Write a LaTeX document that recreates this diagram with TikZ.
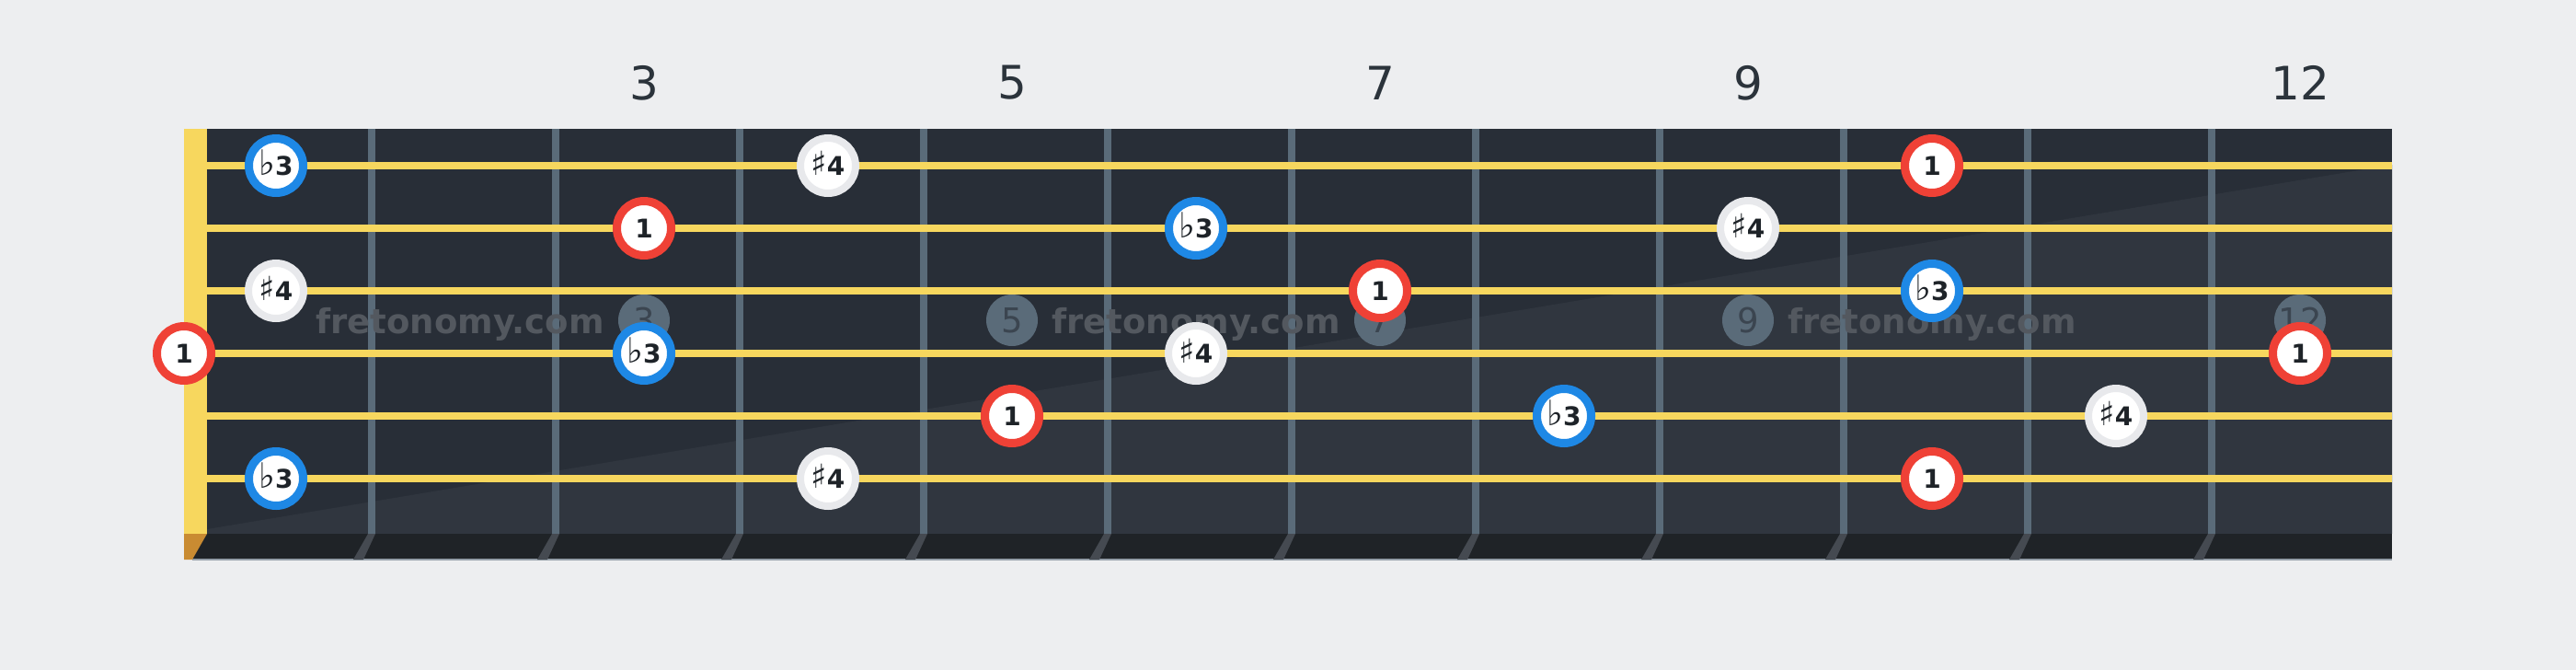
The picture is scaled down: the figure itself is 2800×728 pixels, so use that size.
\documentclass[tikz,border=0pt]{standalone}
\usepackage{fontspec}
\setmainfont{DejaVu Sans}
\definecolor{bgc}{HTML}{EDEEF0}
\definecolor{boardc}{HTML}{282E37}
\definecolor{shadec}{HTML}{30363F}
\definecolor{fretc}{HTML}{5A6B79}
\definecolor{stringc}{HTML}{F7D75E}
\definecolor{orangec}{HTML}{C98B32}
\definecolor{stripc}{HTML}{1F2327}
\definecolor{stripfret}{HTML}{454A51}
\definecolor{inlaytext}{HTML}{3B4550}
\definecolor{fretnum}{HTML}{2B333B}
\definecolor{wmc}{HTML}{53585F}
\definecolor{noteRed}{HTML}{EF4136}
\definecolor{noteBlue}{HTML}{1E88E5}
\definecolor{sharpRing}{HTML}{E8E9EC}
\definecolor{notetext}{HTML}{1E2328}
\newcommand{\accfl}{\smash{\mdseries\fontsize{38}{40}\selectfont ♭}}
\newcommand{\accsh}{\smash{\mdseries\fontsize{36}{40}\selectfont ♯}}
\begin{document}
\begin{tikzpicture}[x=1pt,y=-1pt,
  note/.style={circle, minimum size=59pt, inner sep=0pt, line width=9pt, fill=white, text=notetext, font=\fontsize{28}{30}\selectfont\bfseries},
  root/.style={note, draw=noteRed},
  flatthree/.style={note, draw=noteBlue},
  sharpfour/.style={note, draw=sharpRing, line width=8pt, minimum size=60pt},
  stringline/.style={draw=stringc, line width=8pt},
  inlay/.style={circle, fill=fretc, minimum size=56pt, inner sep=0pt, text=inlaytext, font=\fontsize{37}{40}\selectfont},
  fretlabel/.style={inner sep=0pt, text=fretnum, font=\fontsize{50}{56}\selectfont},
  watermark/.style={inner sep=0pt, anchor=base, text=wmc, font=\fontsize{37}{40}\selectfont\bfseries}
]
% background
\fill[bgc] (0,0) rectangle (2800,728);
\useasboundingbox (0,0) rectangle (2800,728);
% board
\fill[boardc] (225,140) rectangle (2600,580);
\fill[shadec] (225,575) -- (2600,179) -- (2600,580) -- (225,580) -- cycle;
% bottom strip
\fill[stripc] (200,580) rectangle (2600,608);
\draw[fretc!60!bgc, line width=1.5pt] (209,608) -- (2600,608);
\fill[orangec] (200,580) -- (225,580) -- (209,608) -- (200,608) -- cycle;
% nut
\fill[stringc] (200,140) rectangle (225,580);
% frets
\foreach \k in {0,...,10} {
  \pgfmathsetmacro{\fx}{404+200*\k}
  \fill[fretc] (\fx-4,140) rectangle (\fx+4,580);
  \fill[stripfret] (\fx-4,580) -- (\fx+4,580) -- (\fx-9,608) -- (\fx-20,608) -- cycle;
}
% inlays
\node[inlay] (in3) at (700,348) {3};
\node[inlay] (in5) at (1100,348) {5};
\node[inlay] (in7) at (1500,348) {7};
\node[inlay] (in9) at (1900,348) {9};
\node[inlay] (in12) at (2500,348) {12};
% watermark
\node[watermark] (wm1) at (500,362) {fretonomy.com};
\node[watermark] (wm2) at (1300,362) {fretonomy.com};
\node[watermark] (wm3) at (2100,362) {fretonomy.com};
% strings
\foreach \y in {180,248,316,384,452,520} {
  \draw[stringline] (225,\y) -- (2600,\y);
}
% fret numbers
\node[fretlabel] (f3) at (700,90) {3};
\node[fretlabel] (f5) at (1100,90) {5};
\node[fretlabel] (f7) at (1500,90) {7};
\node[fretlabel] (f9) at (1900,90) {9};
\node[fretlabel] (f12) at (2500,90) {12};
% notes string 1
\node[flatthree] (s1a) at (300,180) {\accfl3};
\node[sharpfour] (s1b) at (900,180) {\accsh4};
\node[root] (s1c) at (2100,180) {1};
% string 2
\node[root] (s2a) at (700,248) {1};
\node[flatthree] (s2b) at (1300,248) {\accfl3};
\node[sharpfour] (s2c) at (1900,248) {\accsh4};
% string 3
\node[sharpfour] (s3a) at (300,316) {\accsh4};
\node[root] (s3b) at (1500,316) {1};
\node[flatthree] (s3c) at (2100,316) {\accfl3};
% string 4
\node[root] (s4a) at (200,384) {1};
\node[flatthree] (s4b) at (700,384) {\accfl3};
\node[sharpfour] (s4c) at (1300,384) {\accsh4};
\node[root] (s4d) at (2500,384) {1};
% string 5
\node[root] (s5a) at (1100,452) {1};
\node[flatthree] (s5b) at (1700,452) {\accfl3};
\node[sharpfour] (s5c) at (2300,452) {\accsh4};
% string 6
\node[flatthree] (s6a) at (300,520) {\accfl3};
\node[sharpfour] (s6b) at (900,520) {\accsh4};
\node[root] (s6c) at (2100,520) {1};
\end{tikzpicture}
\end{document}
